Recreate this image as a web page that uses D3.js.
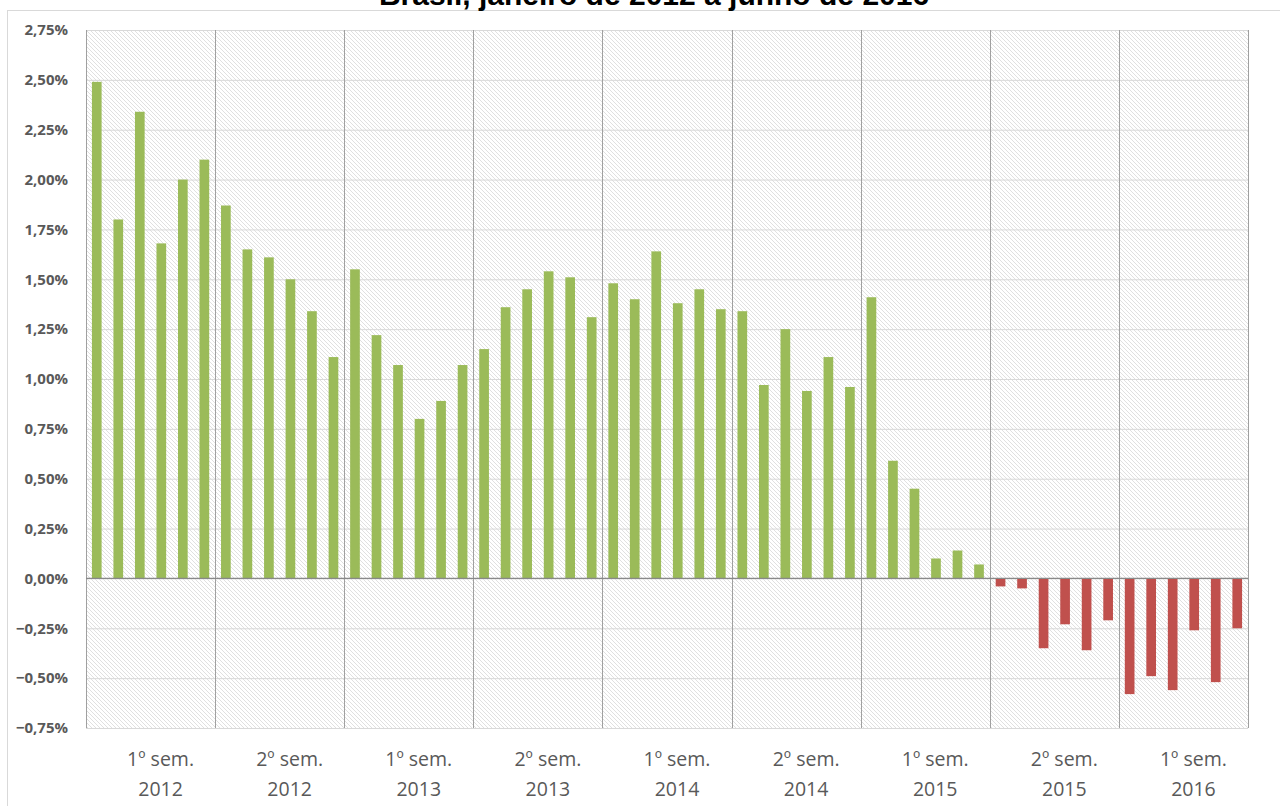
<!DOCTYPE html>
<html>
<head>
<meta charset="utf-8">
<script src="https://cdn.jsdelivr.net/npm/d3@7"></script>
<style>
  html, body { margin: 0; padding: 0; background: #ffffff; }
  svg { display: block; }
</style>
</head>
<body>
<svg id="chart" width="1280" height="806"></svg>
<script>
// ---- DATA ----
const title = "Brasil, janeiro de 2012 a junho de 2016";
const monthNames = ["jan","fev","mar","abr","mai","jun","jul","ago","set","out","nov","dez"];
const years = ["2012","2013","2014","2015","2016"];
const semesterLabels = ["1º sem.","2º sem.","1º sem.","2º sem.","1º sem.","2º sem.","1º sem.","2º sem.","1º sem."];
const semesterYears  = ["2012","2012","2013","2013","2014","2014","2015","2015","2016"];
const values = [
  2.49, 1.80, 2.34, 1.68, 2.00, 2.10,
  1.87, 1.65, 1.61, 1.50, 1.34, 1.11,
  1.55, 1.22, 1.07, 0.80, 0.89, 1.07,
  1.15, 1.36, 1.45, 1.54, 1.51, 1.31,
  1.48, 1.40, 1.64, 1.38, 1.45, 1.35,
  1.34, 0.97, 1.25, 0.94, 1.11, 0.96,
  1.41, 0.59, 0.45, 0.10, 0.14, 0.07,
  -0.04, -0.05, -0.35, -0.23, -0.36, -0.21,
  -0.58, -0.49, -0.56, -0.26, -0.52, -0.25
];
const yTicks = [-0.75,-0.5,-0.25,0,0.25,0.5,0.75,1,1.25,1.5,1.75,2,2.25,2.5,2.75];

// categories (month/year keys)
const categories = [];
years.forEach(y => monthNames.forEach(m => categories.push(m + "/" + y)));
const months = categories.slice(0, values.length);
const data = months.map((m, i) => ({ key: m, value: values[i] }));

// ---- LAYOUT ----
const plot = { left: 86, right: 1248, top: 30, bottom: 728 };
const colors = { pos: "#9BBB59", neg: "#C0504D", text: "#595959",
                 grid: "#d9d9d9", vline: "#a0a0a0", zero: "#898989", hatch: "#e0e0e0" };

const svg = d3.select("#chart");

const locale = d3.formatLocale({ decimal: ",", thousands: ".", grouping: [3], currency: ["R$", ""] });
const fmt = v => locale.format(".2f")(v) + "%";

const x = d3.scaleBand().domain(months).range([plot.left, plot.right])
  .paddingInner(0.55).paddingOuter(0.275);
const xSem = d3.scaleBand().domain(d3.range(semesterLabels.length)).range([plot.left, plot.right]);
const y = d3.scaleLinear().domain([-0.75, 2.75]).range([plot.bottom, plot.top]);

// hatch pattern
const defs = svg.append("defs");
const pat = defs.append("pattern").attr("id", "hatch").attr("patternUnits", "userSpaceOnUse")
  .attr("width", 4).attr("height", 4);
pat.append("rect").attr("width", 4).attr("height", 4).attr("fill", "#ffffff");
pat.append("path").attr("d", "M-1,-1 L5,5 M-1,3 L1,5 M3,-1 L5,1")
  .attr("stroke", colors.hatch).attr("stroke-width", 1);

// chart border
svg.append("rect").attr("x", 7.5).attr("y", 10.5).attr("width", 1400).attr("height", 900)
  .attr("fill", "none").attr("stroke", "#d9d9d9").attr("stroke-width", 1);

// title (clipped at top like the reference)
svg.append("text").attr("x", 654).attr("y", 5).attr("text-anchor", "middle")
  .attr("font-family", "'Liberation Sans', Arial, sans-serif").attr("font-weight", "bold")
  .attr("font-size", 30).attr("fill", "#000").text(title);

// plot background
svg.append("rect").attr("x", plot.left).attr("y", plot.top)
  .attr("width", plot.right - plot.left).attr("height", plot.bottom - plot.top)
  .attr("fill", "url(#hatch)");

// horizontal gridlines via axis
const yGrid = svg.append("g").attr("transform", `translate(${plot.left},0)`)
  .call(d3.axisLeft(y).tickValues(yTicks).tickSize(-(plot.right - plot.left)).tickFormat(""));
yGrid.select(".domain").remove();
yGrid.selectAll(".tick line").attr("stroke", colors.grid).attr("stroke-width", 1);

// vertical semester lines
const vb = d3.range(semesterLabels.length + 1).map(i => i === semesterLabels.length ? plot.right : xSem(i));
svg.append("g").selectAll("line").data(vb).join("line")
  .attr("x1", d => Math.round(d) + 0.5).attr("x2", d => Math.round(d) + 0.5)
  .attr("y1", plot.top).attr("y2", plot.bottom)
  .attr("stroke", colors.vline).attr("stroke-width", 1);

// bars
svg.append("g").selectAll("rect").data(data).join("rect")
  .attr("x", d => x(d.key)).attr("width", x.bandwidth())
  .attr("y", d => y(Math.max(0, d.value)))
  .attr("height", d => Math.abs(y(d.value) - y(0)))
  .attr("fill", d => d.value >= 0 ? colors.pos : colors.neg);

// zero line
svg.append("line").attr("x1", plot.left).attr("x2", plot.right)
  .attr("y1", y(0)).attr("y2", y(0)).attr("stroke", colors.zero).attr("stroke-width", 1.2);

// y axis labels
const yAxis = svg.append("g").attr("transform", `translate(${plot.left},0)`)
  .call(d3.axisLeft(y).tickValues(yTicks).tickSize(0).tickPadding(18).tickFormat(fmt));
yAxis.select(".domain").remove();
yAxis.selectAll("text").attr("font-family", "'Open Sans', sans-serif").attr("font-weight", "bold")
  .attr("font-size", 15).attr("fill", colors.text);

// x axis semester labels
const xAxis = svg.append("g").attr("transform", `translate(0,${plot.bottom})`);
const lab = xAxis.selectAll("text").data(semesterLabels).join("text")
  .attr("text-anchor", "middle")
  .attr("font-family", "'Open Sans', sans-serif").attr("font-size", 19.5).attr("fill", colors.text)
  .attr("x", (d, i) => xSem(i) + xSem.bandwidth() / 2 + 10);
lab.append("tspan").attr("x", (d, i) => xSem(i) + xSem.bandwidth() / 2 + 10).attr("y", 38).text(d => d);
lab.append("tspan").attr("x", (d, i) => xSem(i) + xSem.bandwidth() / 2 + 10).attr("y", 68).text((d, i) => semesterYears[i]);
</script>
</body>
</html>
